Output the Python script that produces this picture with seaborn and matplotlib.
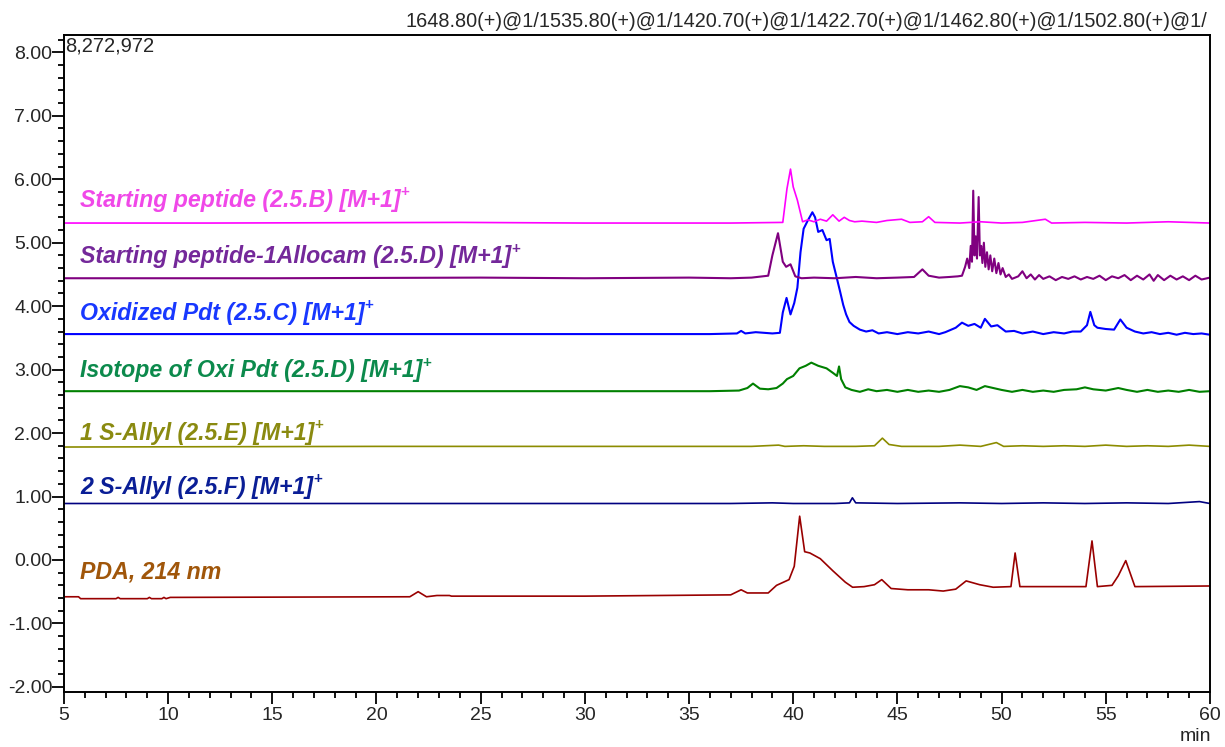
import numpy as np
import pandas as pd
import matplotlib
matplotlib.use("Agg")
import matplotlib.pyplot as plt
from matplotlib.ticker import MultipleLocator, FormatStrFormatter
import seaborn as sns

# trace data (time in min, offset intensity)
sp_b_t = [5, 12, 24, 30, 37, 39.5, 39.7, 39.87, 40.0, 40.2, 40.45, 40.7, 41.0, 41.3, 41.6,
          41.9, 42.2, 42.45, 42.7, 42.95, 43.3, 44.0, 44.5, 45.2, 45.6, 46.2, 46.5, 46.8,
          48.0, 49.0, 50.0, 51.0, 52.1, 52.4, 54.0, 56.0, 58.0, 60]
sp_b_y = [5.31, 5.31, 5.32, 5.31, 5.31, 5.32, 5.85, 6.16, 5.88, 5.67, 5.33, 5.36, 5.33, 5.37, 5.34,
          5.44, 5.34, 5.40, 5.35, 5.33, 5.34, 5.32, 5.35, 5.37, 5.32, 5.33, 5.41, 5.32,
          5.31, 5.33, 5.31, 5.32, 5.37, 5.31, 5.32, 5.31, 5.33, 5.31]

sp_d_t = [5, 15, 25, 30, 35, 37, 38.0, 38.8, 39.0, 39.27, 39.5, 39.66, 39.87, 40.1, 40.4,
          41.0, 42.0, 43.0, 44.0, 45.0, 45.8, 46.2, 46.5, 47.0, 47.5, 47.9,
          48.1, 48.25, 48.35, 48.45, 48.52, 48.58, 48.64, 48.70, 48.76, 48.82, 48.90, 48.96,
          49.02, 49.08, 49.15, 49.22, 49.30, 49.38, 49.46, 49.55, 49.65, 49.75, 49.85, 49.95,
          50.05, 50.2, 50.35, 50.5, 50.8, 51.0, 51.2, 51.4, 51.6, 51.8, 52.0, 52.3, 52.6,
          52.9, 53.2, 53.5, 53.8, 54.1, 54.4, 54.7, 55.0, 55.3, 55.6, 55.9, 56.2, 56.5, 56.8,
          57.1, 57.3, 57.5, 57.8, 58.1, 58.4, 58.7, 59.0, 59.3, 59.6, 60]
sp_d_y = [4.44, 4.44, 4.45, 4.44, 4.45, 4.44, 4.45, 4.48, 4.80, 5.15, 4.70, 4.62, 4.66, 4.47, 4.44,
          4.45, 4.44, 4.46, 4.44, 4.45, 4.46, 4.58, 4.48, 4.45, 4.46, 4.47,
          4.48, 4.62, 4.75, 4.60, 4.95, 4.70, 5.82, 4.80, 5.10, 4.75, 5.72, 4.80,
          4.95, 4.68, 5.00, 4.62, 4.85, 4.58, 4.80, 4.55, 4.75, 4.52, 4.68, 4.50,
          4.60, 4.46, 4.50, 4.43, 4.47, 4.55, 4.44, 4.50, 4.42, 4.49, 4.43, 4.47, 4.41,
          4.46, 4.43, 4.47, 4.42, 4.46, 4.43, 4.48, 4.41, 4.47, 4.44, 4.49, 4.41, 4.48, 4.42,
          4.50, 4.40, 4.49, 4.41, 4.48, 4.42, 4.47, 4.41, 4.48, 4.42, 4.45]

ox_c_t = [5, 20, 30, 36, 37.3, 37.5, 37.7, 38.2, 38.6, 39.0, 39.36, 39.5, 39.68, 39.87, 40.05,
          40.2, 40.35, 40.5, 40.7, 40.92, 41.05, 41.2, 41.4, 41.6, 41.75, 41.9, 42.05, 42.25,
          42.4, 42.54, 42.7, 42.9, 43.2, 43.5, 43.8, 44.1, 44.5, 45.0, 45.5, 46.0, 46.5, 47.0,
          47.3, 47.8, 48.1, 48.4, 48.7, 49.0, 49.2, 49.5, 49.8, 50.2, 50.6, 51.0, 51.5, 52.0,
          52.5, 53.0, 53.4, 53.8, 54.1, 54.26, 54.45, 54.6, 55.0, 55.4, 55.7, 56.0, 56.4, 56.8,
          57.2, 57.6, 58.0, 58.4, 58.8, 59.2, 59.6, 60]
ox_c_y = [3.56, 3.56, 3.56, 3.56, 3.57, 3.61, 3.57, 3.59, 3.58, 3.57, 3.58, 3.90, 4.13, 3.87, 4.05,
          4.29, 4.85, 5.22, 5.35, 5.48, 5.40, 5.17, 5.20, 5.04, 5.06, 4.70, 4.50, 4.23,
          4.02, 3.87, 3.75, 3.69, 3.63, 3.60, 3.62, 3.57, 3.59, 3.56, 3.59, 3.57, 3.60, 3.56,
          3.59, 3.66, 3.74, 3.69, 3.72, 3.66, 3.80, 3.68, 3.70, 3.60, 3.61, 3.57, 3.60, 3.56,
          3.59, 3.57, 3.60, 3.60, 3.70, 3.91, 3.70, 3.66, 3.64, 3.63, 3.79, 3.66, 3.60, 3.57,
          3.59, 3.56, 3.58, 3.55, 3.58, 3.56, 3.57, 3.55]

iso_t = [5, 20, 30, 36, 37.4, 37.8, 38.07, 38.4, 38.8, 39.2, 39.5, 39.7, 40.0, 40.3, 40.6,
         40.87, 41.2, 41.6, 41.9, 42.1, 42.2, 42.3, 42.5, 42.8, 43.2, 43.6, 44.0, 44.5, 45,
         45.5, 46.0, 46.5, 47.0, 47.5, 48.0, 48.4, 48.8, 49.2, 49.6, 50.0, 50.5, 51, 51.5, 52,
         52.5, 53, 53.6, 54.0, 54.4, 55.0, 55.6, 56.0, 56.5, 57, 57.5, 58, 58.5, 59, 59.5, 60]
iso_y = [2.66, 2.66, 2.66, 2.66, 2.67, 2.71, 2.78, 2.70, 2.69, 2.71, 2.78, 2.85, 2.90, 3.02, 3.06,
         3.11, 3.06, 3.02, 2.95, 2.90, 3.05, 2.85, 2.72, 2.68, 2.65, 2.69, 2.66, 2.68, 2.65,
         2.68, 2.65, 2.67, 2.65, 2.68, 2.74, 2.72, 2.68, 2.74, 2.71, 2.68, 2.65, 2.68, 2.65, 2.67,
         2.65, 2.68, 2.69, 2.72, 2.69, 2.67, 2.71, 2.68, 2.65, 2.68, 2.65, 2.67, 2.65, 2.68, 2.65, 2.66]

s1_t = [5, 20, 30, 37, 38.0, 39.3, 39.6, 40.5, 41.5, 43.0, 43.9, 44.28, 44.6, 45.2, 47, 48.0,
        49.0, 49.75, 50.1, 51, 52, 53, 54, 55, 56, 57, 58, 59, 60]
s1_y = [1.78, 1.79, 1.79, 1.79, 1.79, 1.81, 1.79, 1.80, 1.79, 1.79, 1.80, 1.92, 1.82, 1.79, 1.79, 1.81,
        1.79, 1.85, 1.79, 1.80, 1.79, 1.80, 1.79, 1.81, 1.79, 1.80, 1.79, 1.81, 1.79]

s2_t = [5, 20, 30, 37, 39, 40, 42.0, 42.7, 42.84, 43.0, 45, 48, 50, 52, 54, 56, 58, 59.5, 60]
s2_y = [0.89, 0.89, 0.89, 0.89, 0.90, 0.89, 0.89, 0.90, 0.98, 0.90, 0.89, 0.90, 0.89, 0.90, 0.89,
        0.90, 0.89, 0.92, 0.89]

pda_t = [5, 5.7, 5.8, 7.5, 7.6, 7.7, 9.0, 9.1, 9.2, 9.7, 9.8, 9.9, 10.1, 21.6, 22.0, 22.4, 22.9,
         23.5, 23.6, 30, 37.0, 37.5, 37.8, 38.8, 39.2, 39.8, 40.05, 40.31, 40.55, 40.8, 41.3,
         41.9, 42.5, 42.85, 43.4, 43.9, 44.25, 44.7, 45.5, 46.5, 47.2, 47.8, 48.3, 48.95, 49.6,
         50.45, 50.65, 50.88, 54.05, 54.34, 54.6, 55.3, 55.6, 55.96, 56.4, 60]
pda_y = [-0.58, -0.58, -0.61, -0.61, -0.59, -0.61, -0.61, -0.59, -0.61, -0.61, -0.59, -0.61, -0.59,
         -0.58, -0.50, -0.58, -0.56, -0.56, -0.57, -0.57, -0.55, -0.47, -0.52, -0.52, -0.40, -0.31,
         -0.10, 0.69, 0.13, 0.11, 0.02, -0.17, -0.35, -0.43, -0.42, -0.39, -0.31, -0.45, -0.47,
         -0.47, -0.49, -0.46, -0.33, -0.39, -0.43, -0.42, 0.11, -0.42, -0.42, 0.30, -0.42, -0.40,
         -0.25, -0.01, -0.42, -0.41]

names = ["Starting peptide (2.5.B) [M+1]", "Starting peptide-1Allocam (2.5.D) [M+1]",
         "Oxidized Pdt (2.5.C) [M+1]", "Isotope of Oxi Pdt (2.5.D) [M+1]",
         "1 S-Allyl (2.5.E) [M+1]", "2 S-Allyl (2.5.F) [M+1]", "PDA, 214 nm"]
label_y = [5.67, 4.78, 3.89, 2.98, 2.00, 1.14, -0.19]
line_colors = ["#ff00ff", "#800080", "#0000ff", "#008000", "#8c8c00", "#000080", "#990000"]
text_colors = ["#f048e8", "#74289a", "#1838ff", "#0c8a4c", "#8a8a10", "#0a1e96", "#a0560a"]

traces = [(sp_b_t, sp_b_y), (sp_d_t, sp_d_y), (ox_c_t, ox_c_y), (iso_t, iso_y),
          (s1_t, s1_y), (s2_t, s2_y), (pda_t, pda_y)]

rows = []
for name, (t, y) in zip(names, traces):
    for a, b in zip(t, y):
        rows.append({"trace": name, "t": a, "y": b})
df = pd.DataFrame(rows)

sns.set_style("ticks")
plt.rcParams["font.family"] = ["Liberation Sans", "DejaVu Sans"]
plt.rcParams["axes.unicode_minus"] = False

fig = plt.figure(figsize=(12.25, 7.47), dpi=100)
ax = fig.add_axes([0.0522, 0.0737, 0.9355, 0.8794])

# PDA first so the MS traces sit on top
for i in [6, 5, 4, 3, 2, 1, 0]:
    sub = df[df["trace"] == names[i]]
    lw = 1.5 if i in (1, 2, 3) else 1.2
    sns.lineplot(data=sub, x="t", y="y", color=line_colors[i], estimator=None,
                 sort=False, lw=lw, ax=ax, legend=False)

for i, name in enumerate(names):
    txt = ax.text(5.77, label_y[i], name, color=text_colors[i], fontsize=16.7,
                  fontweight="bold", fontstyle="italic", va="center", ha="left")
    if i < 6:
        ax.annotate("+", xy=(1.0, 0.55), xycoords=txt, color=text_colors[i], fontsize=11,
                    fontweight="bold", va="bottom", ha="left")

ax.set_xlim(5, 60)
ax.set_ylim(-2.08, 8.273)
ax.xaxis.set_major_locator(MultipleLocator(5))
ax.xaxis.set_minor_locator(MultipleLocator(1))
ax.yaxis.set_major_locator(MultipleLocator(1))
ax.yaxis.set_minor_locator(MultipleLocator(0.2))
ax.yaxis.set_major_formatter(FormatStrFormatter("%.2f"))
ax.tick_params(axis="both", which="major", direction="out", length=8.5, width=1.3,
               labelsize=14, color="black", pad=2)
ax.tick_params(axis="both", which="minor", direction="out", length=4.5, width=1.3, color="black")
ax.tick_params(axis="y", which="major", pad=0)
ax.set_xlabel("")
ax.set_ylabel("")
for s in ax.spines.values():
    s.set_visible(True)
    s.set_linewidth(1.4)
    s.set_color("black")

ax.text(5.05, 8.255, "8,272,972", fontsize=14.5, va="top", ha="left")
ax.text(0.998, 1.006, "1648.80(+)@1/1535.80(+)@1/1420.70(+)@1/1422.70(+)@1/1462.80(+)@1/1502.80(+)@1/",
        transform=ax.transAxes, fontsize=14.3, va="bottom", ha="right")
fig.text(0.976, 0.003, "min", fontsize=14, ha="center", va="bottom")

fig.savefig("out.png", dpi=100)
